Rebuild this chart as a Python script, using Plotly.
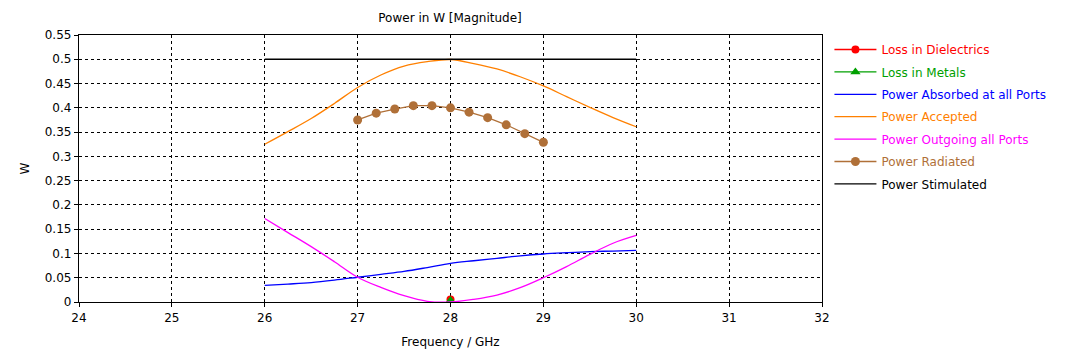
import plotly.graph_objects as go

# ---- data ----
freq_cont = [26.0, 26.25, 26.5, 26.75, 27.0, 27.25, 27.5, 27.75, 28.0,
             28.25, 28.5, 28.75, 29.0, 29.25, 29.5, 29.75, 30.0]
power_absorbed = [0.0344, 0.037, 0.040, 0.045, 0.051, 0.057, 0.063, 0.071, 0.0797,
                  0.085, 0.090, 0.095, 0.0989, 0.1015, 0.1037, 0.105, 0.1064]
power_accepted = [0.325, 0.351, 0.378, 0.409, 0.442, 0.4676, 0.486, 0.495, 0.4995,
                  0.491, 0.480, 0.464, 0.445, 0.423, 0.401, 0.380, 0.361]
power_outgoing = [0.172, 0.143, 0.114, 0.083, 0.051, 0.030, 0.013, 0.0015, 0.0,
                  0.0055, 0.0144, 0.0295, 0.050, 0.073, 0.098, 0.121, 0.137]
power_stimulated = [0.5] * len(freq_cont)

freq_rad = [27.0, 27.2, 27.4, 27.6, 27.8, 28.0, 28.2, 28.4, 28.6, 28.8, 29.0]
power_radiated = [0.375, 0.389, 0.3975, 0.4045, 0.4045, 0.400, 0.391, 0.3797,
                  0.365, 0.3467, 0.329]

freq_loss = [28.0]
loss_dielectrics = [0.005]
loss_metals = [0.003]

x_ticks = [24, 25, 26, 27, 28, 29, 30, 31, 32]

FONT = "DejaVu Sans"

def lab(text, color):
    return f'<span style="color:{color}">{text}</span>'

fig = go.Figure()
fig.add_trace(go.Scatter(x=freq_loss, y=loss_dielectrics, mode="lines+markers",
                         name=lab("Loss in Dielectrics", "#ff0000"), legendgroup="g1",
                         line=dict(color="#ff0000", width=1.3),
                         marker=dict(symbol="circle", size=8, color="#ff0000")))
fig.add_trace(go.Scatter(x=freq_loss, y=loss_metals, mode="lines+markers",
                         name=lab("Loss in Metals", "#00a000"), legendgroup="g2",
                         line=dict(color="#00a000", width=1.3),
                         marker=dict(symbol="triangle-up", size=9, color="#00a000")))
fig.add_trace(go.Scatter(x=freq_cont, y=power_absorbed, mode="lines",
                         name=lab("Power Absorbed at all Ports", "#0000ff"), legendgroup="g3",
                         line=dict(color="#0000ff", width=1.3, shape="spline")))
fig.add_trace(go.Scatter(x=freq_cont, y=power_accepted, mode="lines",
                         name=lab("Power Accepted", "#ff8000"), legendgroup="g4",
                         line=dict(color="#ff8000", width=1.3, shape="spline")))
fig.add_trace(go.Scatter(x=freq_cont, y=power_outgoing, mode="lines",
                         name=lab("Power Outgoing all Ports", "#ff00ff"), legendgroup="g5",
                         line=dict(color="#ff00ff", width=1.3, shape="spline")))
fig.add_trace(go.Scatter(x=freq_rad, y=power_radiated, mode="lines+markers",
                         name=lab("Power Radiated", "#b07038"), legendgroup="g6",
                         line=dict(color="#b07038", width=1.3),
                         marker=dict(symbol="circle", size=9, color="#b07038")))
fig.add_trace(go.Scatter(x=freq_cont, y=power_stimulated, mode="lines",
                         name=lab("Power Stimulated", "#000000"), legendgroup="g7",
                         line=dict(color="#000000", width=1.3)))

axis_common = dict(
    showgrid=True, gridcolor="black", gridwidth=1, griddash="3px,3px",
    showline=True, linecolor="black", linewidth=1.3, mirror=True,
    ticks="outside", ticklen=4, tickcolor="black", zeroline=False,
    tickfont=dict(family=FONT, size=12, color="black"), automargin=False,
)

fig.update_layout(
    width=1091, height=354, autosize=False,
    margin=dict(l=79, r=269, t=35, b=52),
    paper_bgcolor="white", plot_bgcolor="white",
    font=dict(family=FONT, size=12, color="black"),
    title=dict(text="Power in W [Magnitude]", x=0.4125, xanchor="center",
               y=0.95, yanchor="middle", font=dict(family=FONT, size=12, color="black")),
    xaxis=dict(range=[24, 32], tickvals=x_ticks, title=dict(text="Frequency / GHz", standoff=14,
               font=dict(family=FONT, size=12)), **axis_common),
    yaxis=dict(range=[0, 0.55], dtick=0.05, title=dict(text="W", standoff=12,
               font=dict(family=FONT, size=12)), **axis_common),
    showlegend=True,
    legend=dict(x=1.01, xanchor="left", y=1.0, yanchor="top",
                bgcolor="rgba(0,0,0,0)", font=dict(family=FONT, size=12),
                itemwidth=42, tracegroupgap=3.4, traceorder="grouped"),
)

fig.write_html("out.html")
